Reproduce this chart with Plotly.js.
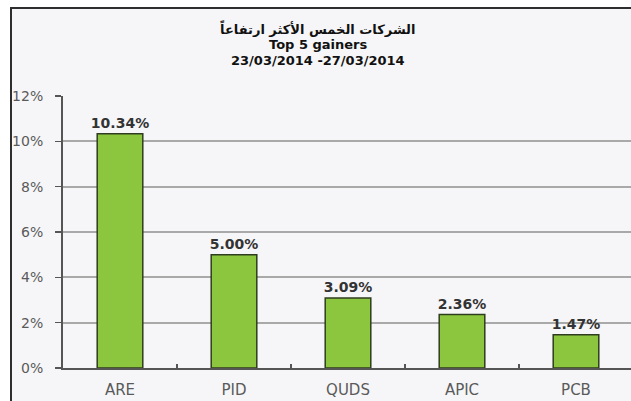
<!DOCTYPE html>
<html>
<head>
<meta charset="utf-8">
<script src="https://cdn.plot.ly/plotly-3.0.1.min.js"></script>
<style>
  html, body { margin:0; padding:0; background:#ffffff; overflow:hidden; width:631px; height:401px; }
  #chart { position:absolute; left:10px; top:7px; width:621px; height:394px;
           border-left:2px solid #2e2e2e; border-top:2px solid #2e2e2e; }
</style>
</head>
<body>
<div id="chart"></div>
<script>
const categories = ["ARE", "PID", "QUDS", "APIC", "PCB"];
const gains = [10.34, 5.00, 3.09, 2.36, 1.47];
const titleLines = ["الشركات الخمس الأكثر ارتفاعاً", "Top 5 gainers", "23/03/2014 -27/03/2014"];
const titleY = [1.25, 1.191, 1.132];

const trace = {
  type: "bar",
  x: categories,
  y: gains,
  width: 0.4,
  marker: { color: "#8cc63f", line: { color: "#2f3d1f", width: 1.5 } },
  texttemplate: "%{y:.2f}%",
  textposition: "outside",
  constraintext: "none",
  cliponaxis: false,
  textfont: { family: "DejaVu Sans, sans-serif", size: 14, color: "#333333", weight: "bold" },
  hoverinfo: "skip"
};

const layout = {
  width: 621,
  height: 394,
  paper_bgcolor: "#f6f6f8",
  plot_bgcolor: "#f6f6f8",
  margin: { l: 51, r: 0, t: 87, b: 35 },
  showlegend: false,
  annotations: titleLines.map((t, i) => ({
    text: t, xref: "paper", yref: "paper", x: 0.447, y: titleY[i],
    xanchor: "center", yanchor: "middle", showarrow: false,
    font: { family: "DejaVu Sans, sans-serif", size: 13, color: "#111111", weight: "bold" }
  })),
  xaxis: {
    type: "category",
    range: [-0.5, 4.5],
    showline: true, linecolor: "#555555", linewidth: 2,
    ticks: "inside", tickson: "boundaries", ticklen: 4, tickcolor: "#555555", tickwidth: 1.5,
    ticklabelstandoff: 7,
    showgrid: false, zeroline: false,
    tickfont: { family: "DejaVu Sans, sans-serif", size: 15, color: "#5a5a5a" }
  },
  yaxis: {
    range: [0, 12],
    dtick: 2,
    ticksuffix: "%",
    showline: true, linecolor: "#555555", linewidth: 2,
    ticks: "outside", ticklen: 6, tickcolor: "#555555", tickwidth: 1.5,
    ticklabelstandoff: 9,
    showgrid: true, gridcolor: "#a9a9a9", gridwidth: 2,
    zeroline: false,
    tickfont: { family: "DejaVu Sans, sans-serif", size: 14, color: "#5a5a5a" }
  },
  bargap: 0.6
};

Plotly.newPlot("chart", [trace], layout, { displayModeBar: false, staticPlot: true });
</script>
</body>
</html>
